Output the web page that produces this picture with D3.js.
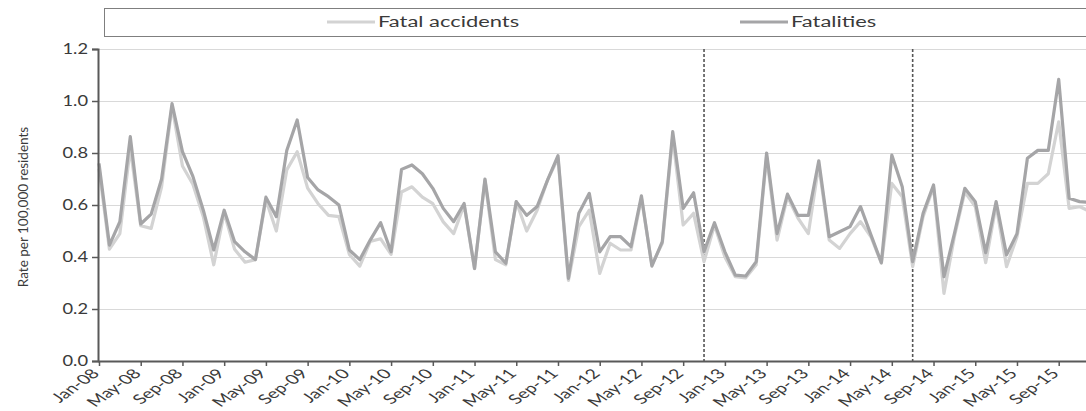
<!DOCTYPE html>
<html>
<head>
<meta charset="utf-8">
<script src="https://cdn.jsdelivr.net/npm/d3@7"></script>
<style>
  html, body { margin: 0; padding: 0; background: #fff; }
  svg { display: block; }
  text { font-family: Lato, "Liberation Sans", sans-serif; fill: #3a3a3a; }
</style>
</head>
<body>
<svg id="chart" width="1086" height="411"></svg>
<script>
// ---- data ----
const monthNames = ["Jan","Feb","Mar","Apr","May","Jun","Jul","Aug","Sep","Oct","Nov","Dec"];
const years = ["08","09","10","11","12","13","14","15"];
const categories = [];
years.forEach(y => monthNames.forEach(m => categories.push(m + "-" + y)));

const fatalAccidents = [
  0.74, 0.43, 0.49, 0.82, 0.52, 0.51, 0.67, 0.98, 0.75, 0.68,
  0.555, 0.37, 0.57, 0.43, 0.38, 0.39, 0.62, 0.50, 0.735, 0.805,
  0.665, 0.605, 0.56, 0.555, 0.41, 0.365, 0.46, 0.47, 0.41, 0.65,
  0.67, 0.63, 0.605, 0.535, 0.49, 0.60, 0.355, 0.695, 0.39, 0.37,
  0.613, 0.50, 0.58, 0.696, 0.78, 0.31, 0.517, 0.58, 0.337, 0.453,
  0.427, 0.427, 0.626, 0.37, 0.453, 0.862, 0.523, 0.568, 0.382, 0.523,
  0.40, 0.324, 0.32, 0.37, 0.786, 0.465, 0.632, 0.55, 0.49, 0.754,
  0.465, 0.433, 0.49, 0.536, 0.478, 0.376, 0.683, 0.632, 0.363, 0.555,
  0.67, 0.26, 0.478, 0.65, 0.594, 0.378, 0.60, 0.363, 0.478, 0.683,
  0.683, 0.72, 0.92, 0.587, 0.594, 0.575
];
const fatalities = [
  0.76, 0.446, 0.536, 0.863, 0.527, 0.565, 0.70, 0.99, 0.805, 0.71,
  0.58, 0.427, 0.58, 0.459, 0.42, 0.39, 0.63, 0.555, 0.81, 0.927,
  0.706, 0.658, 0.632, 0.60, 0.427, 0.39, 0.465, 0.532, 0.42, 0.737,
  0.754, 0.72, 0.664, 0.587, 0.536, 0.606, 0.356, 0.70, 0.42, 0.376,
  0.613, 0.56, 0.594, 0.696, 0.79, 0.318, 0.568, 0.645, 0.42, 0.478,
  0.478, 0.44, 0.635, 0.365, 0.459, 0.882, 0.587, 0.647, 0.42, 0.532,
  0.42, 0.33, 0.327, 0.382, 0.80, 0.49, 0.642, 0.56, 0.56, 0.77,
  0.478, 0.497, 0.517, 0.594, 0.485, 0.378, 0.792, 0.67, 0.382, 0.568,
  0.677, 0.324, 0.49, 0.664, 0.613, 0.417, 0.613, 0.408, 0.49, 0.78,
  0.81, 0.81, 1.083, 0.626, 0.613, 0.61
];
const yTicks = [0, 0.2, 0.4, 0.6, 0.8, 1.0, 1.2];
const markerMonths = ["Nov-12", "Jul-14"];
const seriesNames = ["Fatal accidents", "Fatalities"];
const seriesColors = ["#d3d3d3", "#a5a5a7"];
const yTitle = "Rate per 100,000 residents";

// ---- layout ----
const svg = d3.select("#chart");
const mLeft = 99, mTop = 49, mBottom = 361, mRight = 1090;

const x = d3.scalePoint().domain(categories).range([mLeft, mRight]);
const y = d3.scaleLinear().domain([0, 1.2]).range([mBottom, mTop]);

// gridlines
svg.append("g").selectAll("line").data(yTicks.slice(1)).join("line")
  .attr("x1", mLeft).attr("x2", 1086)
  .attr("y1", d => Math.round(y(d)) + 0.5).attr("y2", d => Math.round(y(d)) + 0.5)
  .attr("stroke", "#d9d9d9").attr("stroke-width", 1);

// marker dashed lines
svg.append("g").selectAll("line").data(markerMonths).join("line")
  .attr("x1", d => x(d)).attr("x2", d => x(d))
  .attr("y1", mTop).attr("y2", mBottom)
  .attr("stroke", "#555").attr("stroke-width", 1.6)
  .attr("stroke-dasharray", "3,2");

// lines
const line = d3.line().x((d, i) => x(categories[i])).y(d => y(d));
[fatalAccidents, fatalities].forEach((s, k) => {
  svg.append("path").datum(s)
    .attr("fill", "none")
    .attr("stroke", seriesColors[k])
    .attr("stroke-width", 3.2)
    .attr("stroke-linejoin", "round")
    .attr("d", line);
});

// y axis
const yAxis = svg.append("g").attr("transform", `translate(${mLeft - 1},0)`)
  .call(d3.axisLeft(y).tickValues(yTicks).tickFormat(d3.format(".1f")).tickSize(6).tickPadding(0));
yAxis.select(".domain").attr("stroke", "#595959").attr("stroke-width", 2);
yAxis.selectAll(".tick line").attr("stroke", "#595959").attr("stroke-width", 1.5);
yAxis.selectAll("text").attr("font-size", 15.5).attr("fill", "#333")
  .attr("x", null)
  .attr("transform", "translate(-10,0) scale(1.18,1)");

// x axis
const xAxis = svg.append("g").attr("transform", `translate(0,${mBottom})`)
  .call(d3.axisBottom(x).tickValues(categories.filter((d, i) => i % 4 === 0)).tickSize(5).tickPadding(0));
xAxis.select(".domain").attr("stroke", "#595959").attr("stroke-width", 2)
  .attr("d", `M${mLeft - 1},0.5H1086`);
xAxis.selectAll(".tick line").attr("stroke", "#595959").attr("stroke-width", 1.5);
xAxis.selectAll("text")
  .attr("font-size", 13.5).attr("fill", "#333")
  .attr("text-anchor", "end")
  .attr("x", 0).attr("y", 0).attr("dy", "0.35em")
  .attr("transform", "translate(-4,10) scale(1.45,1) rotate(-46)");

// y title
svg.append("text")
  .attr("transform", `translate(28,${(mTop + mBottom) / 2 + 2}) rotate(-90)`)
  .attr("text-anchor", "middle")
  .attr("font-size", 13.5)
  .attr("fill", "#333")
  .text(yTitle);

// legend
svg.append("rect").attr("x", 104.5).attr("y", 8.5).attr("width", 1000).attr("height", 28)
  .attr("fill", "none").attr("stroke", "#7f7f7f").attr("stroke-width", 1);
const legendX = [327, 740];
seriesNames.forEach((n, k) => {
  svg.append("line").attr("x1", legendX[k]).attr("x2", legendX[k] + 48)
    .attr("y1", 22).attr("y2", 22)
    .attr("stroke", seriesColors[k]).attr("stroke-width", 3.2);
  svg.append("text")
    .attr("transform", `translate(${legendX[k] + 51},27) scale(1.37,1)`)
    .attr("font-size", 16).attr("fill", "#333").text(n);
});
</script>
</body>
</html>
